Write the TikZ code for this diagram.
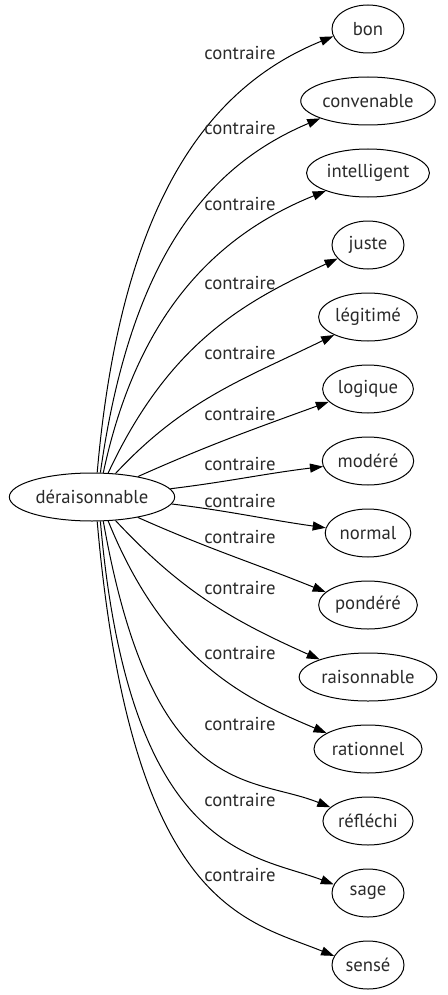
\documentclass[tikz,border=0pt]{standalone}
\usepackage{fontspec}
\setmainfont{PT Sans}
\definecolor{wordgray}{HTML}{2A2A2A}
\usetikzlibrary{arrows.meta, positioning, shapes.geometric}
\tikzset{
	word/.style={draw=black, ellipse, line width=1pt, inner sep=2pt,
		minimum width=72pt, minimum height=48pt,
		font=\fontsize{18.7}{22}\selectfont, text=wordgray},
	rel/.style={inner sep=0pt, font=\fontsize{18.7}{22}\selectfont, text=wordgray},
	contr/.style={-{Triangle[length=13pt, width=9pt]}, line width=1pt, draw=black},
	softbend/.style={out looseness=1.4, in looseness=0.7},
	hookbend/.style={out looseness=2, in looseness=0.5}
}

\begin{document}
\begin{tikzpicture}[x=1pt, y=-1pt, node distance=23pt]
	\useasboundingbox (0,0) rectangle (447,995);
	\node[word] (deraisonnable) at (92,497) {déraisonnable};
	\node[word] (bon) at (368,29) {bon};
	\node[word, below=of bon] (convenable) {convenable};
	\node[word, below=of convenable] (intelligent) {intelligent};
	\node[word, below=of intelligent] (juste) {juste};
	\node[word, below=of juste] (legitime) {légitimé};
	\node[word, below=of legitime] (logique) {logique};
	\node[word, below=of logique] (modere) {modéré};
	\node[word, below=of modere] (normal) {normal};
	\node[word, below=of normal] (pondere) {pondéré};
	\node[word, below=of pondere] (raisonnable) {raisonnable};
	\node[word, below=of raisonnable] (rationnel) {rationnel};
	\node[word, below=of rationnel] (reflechi) {réfléchi};
	\node[word, below=of reflechi] (sage) {sage};
	\node[word, below=of sage] (sense) {sensé};
	% les arcs "contraire"
	\draw[contr] (deraisonnable.78) to[out=85, in=202, softbend] (bon.192);
	\draw[contr] (deraisonnable.71) to[out=82, in=203, softbend] (convenable.200);
	\draw[contr] (deraisonnable.65) to[out=78, in=202, out looseness=1.2, in looseness=0.8] (intelligent.203);
	\draw[contr] (deraisonnable.56) to[out=65, in=205, out looseness=1.2, in looseness=0.8] (juste.204);
	\draw[contr] (deraisonnable.45) to[out=47, in=206] (legitime.208);
	\draw[contr] (deraisonnable.24) to[out=24, in=200] (logique.198);
	\draw[contr] (deraisonnable.6) to[out=7, in=187] (modere.187);
	\draw[contr] (deraisonnable.-5) to[out=-7, in=172] (normal.173);
	\draw[contr] (deraisonnable.-24) to[out=-24, in=158] (pondere.163);
	\draw[contr] (deraisonnable.-45) to[out=-47, in=156] (raisonnable.160);
	\draw[contr] (deraisonnable.-56) to[out=-68, in=157, out looseness=1.3, in looseness=0.7] (rationnel.159);
	\draw[contr] (deraisonnable.-65) to[out=-80, in=158, out looseness=2, in looseness=0.6] (reflechi.160);
	\draw[contr] (deraisonnable.-71) to[out=-85, in=159, hookbend] (sage.166);
	\draw[contr] (deraisonnable.-78) to[out=-85, in=158, hookbend] (sense.165);
	% etiquettes
	\node[rel] (lbon) at (240,53) {contraire};
	\node[rel] (lconvenable) at (240,128) {contraire};
	\node[rel] (lintelligent) at (240,204) {contraire};
	\node[rel] (ljuste) at (240,283) {contraire};
	\node[rel] (llegitime) at (240,353) {contraire};
	\node[rel] (llogique) at (240,414) {contraire};
	\node[rel] (lmodere) at (240,464) {contraire};
	\node[rel] (lnormal) at (240,501) {contraire};
	\node[rel] (lpondere) at (240,537) {contraire};
	\node[rel] (lraisonnable) at (240,588) {contraire};
	\node[rel] (lrationnel) at (240,653) {contraire};
	\node[rel] (lreflechi) at (240,724) {contraire};
	\node[rel] (lsage) at (240,800) {contraire};
	\node[rel] (lsense) at (240,875) {contraire};
\end{tikzpicture}
\end{document}
